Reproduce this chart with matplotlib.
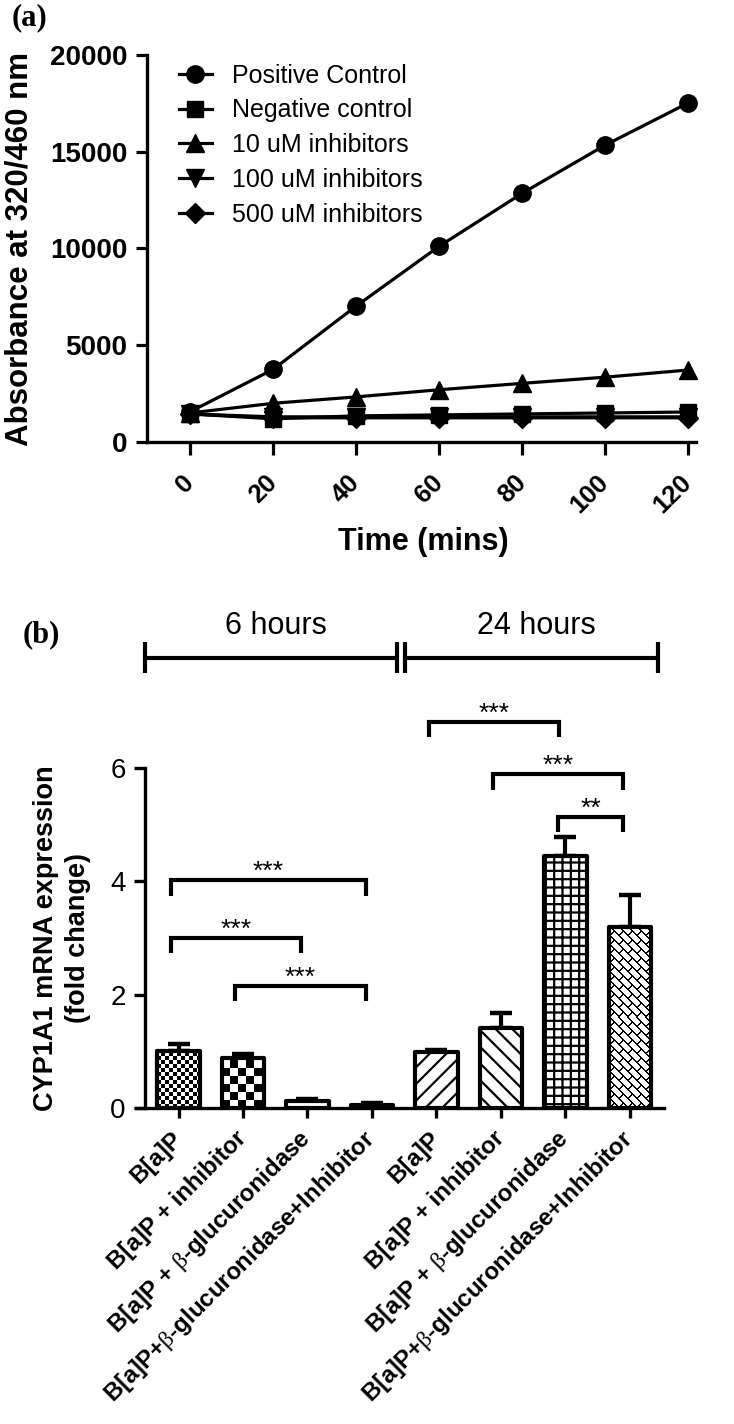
import numpy as np
import matplotlib
matplotlib.use('Agg')
import matplotlib.pyplot as plt

plt.rcParams['font.family'] = ['Liberation Sans', 'DejaVu Sans']
plt.rcParams['hatch.linewidth'] = 1.6
plt.rcParams['mathtext.fontset'] = 'custom'
plt.rcParams['mathtext.rm'] = 'Liberation Serif'

# ---------------- data: panel (a) ----------------
time_min = [0, 20, 40, 60, 80, 100, 120]
positive_control = [1560, 3750, 7020, 10110, 12850, 15340, 17520]
negative_control = [1450, 1200, 1350, 1400, 1450, 1500, 1550]
inhib_10uM = [1500, 2000, 2330, 2700, 3030, 3350, 3720]
inhib_100uM = [1450, 1300, 1300, 1300, 1300, 1300, 1300]
inhib_500uM = [1450, 1250, 1250, 1250, 1250, 1250, 1250]
series_labels = ['Positive Control', 'Negative control', '10 uM inhibitors',
                 '100 uM inhibitors', '500 uM inhibitors']

# ---------------- data: panel (b) ----------------
BETA = r'$\mathrm{\beta}$'
bar_labels = ['B[a]P', 'B[a]P + inhibitor', 'B[a]P + ' + BETA + '-glucuronidase',
              'B[a]P+' + BETA + '-glucuronidase+Inhibitor',
              'B[a]P', 'B[a]P + inhibitor', 'B[a]P + ' + BETA + '-glucuronidase',
              'B[a]P+' + BETA + '-glucuronidase+Inhibitor']
fold_change = [1.0, 0.88, 0.12, 0.06, 0.99, 1.42, 4.45, 3.2]
fold_err = [0.13, 0.08, 0.04, 0.03, 0.04, 0.25, 0.34, 0.56]
group_labels = ['6 hours', '24 hours']
sig_pairs = [(0, 3), (0, 2), (1, 3), (4, 6), (5, 7), (6, 7)]
sig_heights = [4.02, 3.0, 2.16, 6.82, 5.89, 5.14]
sig_marks = ['***', '***', '***', '***', '***', '**']

# ---------------- figure ----------------
W, H = 734, 1424
fig = plt.figure(figsize=(W / 100, H / 100), dpi=100)


def rect(l, t, r, b):
    return [l / W, 1 - b / H, (r - l) / W, (b - t) / H]


# ===== panel (a) =====
ax1 = fig.add_axes(rect(147, 55, 696, 442))
series = [positive_control, negative_control, inhib_10uM, inhib_100uM, inhib_500uM]
markers = ['o', 's', '^', 'v', 'D']
msizes = [12.5, 11, 12.5, 12.5, 10]
for lab, mk, ms, ys in zip(series_labels, markers, msizes, series):
    ax1.plot(time_min, ys, color='black', lw=2.3, marker=mk, ms=ms,
             label=lab, clip_on=False)

ax1.set_xlim(-10.36, 121.9)
ax1.set_ylim(0, 20000)
ax1.set_xticks(time_min)
ax1.set_xticklabels([str(t) for t in time_min], rotation=45, ha='right',
                    va='center', rotation_mode='anchor', fontsize=18.5,
                    fontweight='bold')
ax1.set_yticks(range(0, 20001, 5000))
ax1.tick_params(axis='x', length=9.5, width=2.3, pad=17)
ax1.tick_params(axis='y', length=8, width=2.3, pad=6, labelsize=20)
for t in ax1.get_yticklabels():
    t.set_fontweight('bold')
for s in ['top', 'right']:
    ax1.spines[s].set_visible(False)
for s in ['left', 'bottom']:
    ax1.spines[s].set_linewidth(2.4)

ax1.set_xlabel('Time (mins)', fontsize=22, fontweight='bold')
ax1.xaxis.set_label_coords(0.503, -0.22)
ax1.set_ylabel('Absorbance at 320/460 nm', fontsize=22.5, fontweight='bold')
ax1.yaxis.set_label_coords(-0.205, 0.5)

ax1.legend(loc='upper left', bbox_to_anchor=(0.058, 0.978), frameon=False,
           fontsize=18, handlelength=1.32, handletextpad=0.8,
           labelspacing=0.43, borderaxespad=0, borderpad=0)

fig.text(12 / W, 1 - 3 / H, '(a)', family=['Liberation Serif', 'DejaVu Serif'],
         fontweight='bold', fontsize=22, ha='left', va='top')

# ===== panel (b) =====
ax2 = fig.add_axes(rect(136, 768, 664, 1108))
ax2.set_xlim(-0.66, 7.53)
ax2.set_ylim(0, 6)
xpos = np.arange(len(fold_change))

bars = ax2.bar(xpos, fold_change, width=0.66, facecolor='white',
               edgecolor='black', linewidth=3, zorder=3)
for b in bars:
    b.set_joinstyle('round')

ax2.errorbar(xpos, fold_change, yerr=[np.zeros(len(fold_err)), fold_err],
             fmt='none', ecolor='black', elinewidth=3, capsize=8,
             capthick=3.2, zorder=2)

hatches = [None, None, None, None, '//', '\\\\', '++', None]
for b, h in zip(bars, hatches):
    if h:
        b.set_hatch(h)


def pattern(kind, ny, nx):
    yy, xx = np.indices((ny, nx))
    if kind == 'fine':
        return ((xx // 4 + yy // 4) % 2).astype(float)
    if kind == 'coarse':
        return ((xx // 8 + yy // 8) % 2).astype(float)
    u = xx + yy
    band = u // 9
    line = (u % 9) < 2
    v = xx - yy + 9 * (band % 2)
    conn = (v % 18) < 2
    return 1.0 - (line | conn).astype(float)


fig.canvas.draw()
for idx, kind in [(0, 'fine'), (1, 'coarse'), (7, 'brick')]:
    b = bars[idx]
    x0, y0 = b.get_x(), b.get_y()
    w, hh = b.get_width(), b.get_height()
    (px0, py0), (px1, py1) = ax2.transData.transform([(x0, y0), (x0 + w, y0 + hh)])
    nx, ny = max(int(round(px1 - px0)), 1), max(int(round(py1 - py0)), 1)
    arr = pattern(kind, ny, nx)
    b.set_facecolor('none')
    im = ax2.imshow(arr, cmap='gray', vmin=0, vmax=1, origin='lower',
                    extent=(x0, x0 + w, y0, y0 + hh), interpolation='nearest',
                    aspect='auto', zorder=2.5)
    im.set_clip_path(b)

ax2.set_xlim(-0.66, 7.53)
ax2.set_ylim(0, 6)

ax2.set_xticks(xpos)
ax2.set_xticklabels(bar_labels, rotation=45, ha='right', va='center',
                    rotation_mode='anchor', fontsize=17.3, fontweight='bold')
ax2.set_yticks([0, 2, 4, 6])
ax2.tick_params(axis='x', length=7.5, width=2.4, pad=12)
ax2.tick_params(axis='y', length=8, width=2.4, pad=6, labelsize=20)
for t in ax2.get_yticklabels():
    t.set_fontweight('bold')
for s in ['top', 'right']:
    ax2.spines[s].set_visible(False)
for s in ['left', 'bottom']:
    ax2.spines[s].set_linewidth(2.4)
ax2.spines['left'].set_position(('data', -0.52))

ax2.set_ylabel('CYP1A1 mRNA expression\n(fold change)', fontsize=19.5,
               fontweight='bold', linespacing=1.3)
ax2.yaxis.set_label_coords(-0.085, 0.5)

# significance brackets
for (i, j), top, mark in zip(sig_pairs, sig_heights, sig_marks):
    xl, xr = i - 0.12, j - 0.1
    ax2.plot([xl, xl, xr, xr], [top - 0.27, top, top, top - 0.27],
             color='black', lw=3, clip_on=False, solid_capstyle='butt',
             solid_joinstyle='miter', zorder=4)
    ax2.text((xl + xr) / 2, top + 0.02, mark, ha='center', va='baseline',
             fontsize=19, clip_on=False)

# time group bars
group_bounds = [(-0.52, 3.395), (3.505, 7.43)]
for (g0, g1), lab in zip(group_bounds, group_labels):
    ax2.plot([g0, g1], [7.95, 7.95], color='black', lw=3, clip_on=False,
             solid_capstyle='butt')
    for gx in (g0, g1):
        ax2.plot([gx, gx], [7.67, 8.23], color='black', lw=3, clip_on=False,
                 solid_capstyle='butt')
    ax2.text((g0 + g1) / 2 + 0.08, 8.5, lab, ha='center', va='center',
             fontsize=22, clip_on=False)

fig.text(23 / W, 1 - 620 / H, '(b)', family=['Liberation Serif', 'DejaVu Serif'],
         fontweight='bold', fontsize=22, ha='left', va='top')

fig.savefig('out.png', dpi=100)
